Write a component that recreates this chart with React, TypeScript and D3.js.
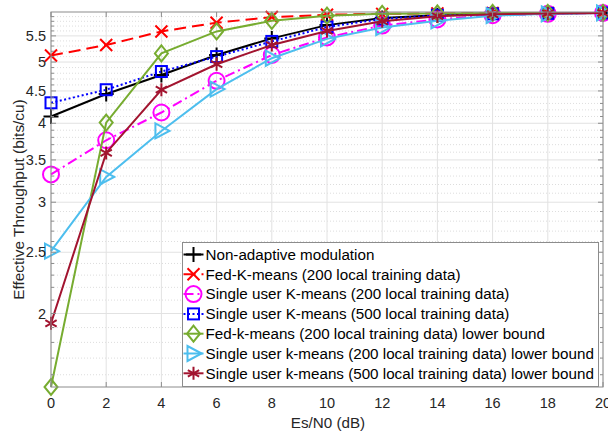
import React from "react";
import * as d3 from "d3";

const snr = [0, 2, 4, 6, 8, 10, 12, 14, 16, 18, 20];
const nonAdaptive = [4.1, 4.45, 4.77, 5.13, 5.45, 5.72, 5.87, 5.93, 5.96, 5.97, 5.98];
const fedKmeans = [5.12, 5.32, 5.59, 5.77, 5.89, 5.94, 5.96, 5.97, 5.98, 5.98, 5.98];
const single200 = [3.32, 3.76, 4.16, 4.67, 5.13, 5.47, 5.71, 5.84, 5.93, 5.96, 5.98];
const single500 = [4.31, 4.52, 4.83, 5.1, 5.39, 5.68, 5.85, 5.93, 5.96, 5.97, 5.98];
const fedLower = [1.53, 4.01, 5.16, 5.59, 5.81, 5.92, 5.96, 5.97, 5.98, 5.98, 5.98];
const single200Lower = [2.51, 3.29, 3.89, 4.53, 5.07, 5.44, 5.67, 5.81, 5.92, 5.96, 5.98];
const single500Lower = [1.93, 3.59, 4.52, 4.96, 5.32, 5.6, 5.8, 5.91, 5.95, 5.97, 5.98];

const xTicks = [0, 2, 4, 6, 8, 10, 12, 14, 16, 18, 20];
const yTicks = [2, 2.5, 3, 3.5, 4, 4.5, 5, 5.5];

const series = [
  { name: "Non-adaptive modulation", values: nonAdaptive, color: "#000000", dash: null, marker: "plus" },
  { name: "Fed-K-means (200 local training data)", values: fedKmeans, color: "#ff0000", dash: "12,6", marker: "x" },
  { name: "Single user K-means (200 local training data)", values: single200, color: "#ff00ff", dash: "10,4,2,4", marker: "circle" },
  { name: "Single user K-means (500 local training data)", values: single500, color: "#0000ff", dash: "2,2.5", marker: "square" },
  { name: "Fed-k-means (200 local training data) lower bound", values: fedLower, color: "#77ac30", dash: null, marker: "diamond" },
  { name: "Single user k-means (200 local training data) lower bound", values: single200Lower, color: "#4dbeee", dash: null, marker: "triangle" },
  { name: "Single user k-means (500 local training data) lower bound", values: single500Lower, color: "#a2142f", dash: null, marker: "star" },
];

const W = 608, H = 436;
const left = 51, right = 603, top = 12, bottom = 387;
const FONT = "'Liberation Sans', Arial, Helvetica, sans-serif";

function Marker({ kind, cx, cy, color }: { kind: string; cx: number; cy: number; color: string }) {
  const p = { fill: "none", stroke: color, strokeWidth: 2 };
  switch (kind) {
    case "plus":
      return <path d={`M${cx - 7.5},${cy}H${cx + 7.5}M${cx},${cy - 7.5}V${cy + 7.5}`} {...p} />;
    case "x":
      return <path d={`M${cx - 6},${cy - 6}L${cx + 6},${cy + 6}M${cx - 6},${cy + 6}L${cx + 6},${cy - 6}`} {...p} />;
    case "circle":
      return <circle cx={cx} cy={cy} r={8} {...p} />;
    case "square":
      return <rect x={cx - 5.5} y={cy - 5.5} width={11} height={11} {...p} />;
    case "diamond":
      return <path d={`M${cx},${cy - 8}L${cx + 6.5},${cy}L${cx},${cy + 8}L${cx - 6.5},${cy}Z`} {...p} />;
    case "triangle":
      return <path d={`M${cx + 8},${cy}L${cx - 6},${cy - 7.5}L${cx - 6},${cy + 7.5}Z`} {...p} />;
    case "star": {
      const r = 6.5;
      let d = `M${cx},${cy - r}V${cy + r}`;
      d += `M${cx - r * 0.87},${cy - r * 0.5}L${cx + r * 0.87},${cy + r * 0.5}`;
      d += `M${cx - r * 0.87},${cy + r * 0.5}L${cx + r * 0.87},${cy - r * 0.5}`;
      return <path d={d} {...p} />;
    }
  }
  return null;
}

export default function App() {
  const x = d3.scaleLinear().domain([0, 20]).range([left, right]);
  const y = d3.scaleLog().domain([1.53, 6]).range([bottom, top]);
  const minor = d3.range(16, 60).map((v) => v / 10).filter((v) => !yTicks.some((t) => Math.abs(t - v) < 1e-6));
  const line = (vals: number[]) =>
    d3.line<number>().x((_, i) => x(snr[i])).y((v) => y(v))(vals) || "";

  const legX = 182.5, legY = 242.5, legW = 416, legH = 144, rowH = 19.8;

  return (
    <svg width={W} height={H} style={{ position: "fixed", left: 0, top: 0, background: "#fff" }} fontFamily={FONT}>
      <rect x={left} y={top} width={right - left} height={bottom - top} fill="#fff" />
      {/* grid */}
      {minor.map((v) => (
        <line key={"m" + v} x1={left} x2={right} y1={y(v)} y2={y(v)} stroke="#d4d4d4" strokeWidth={0.8} strokeDasharray="1,2" />
      ))}
      {yTicks.map((v) => (
        <line key={"gy" + v} x1={left} x2={right} y1={y(v)} y2={y(v)} stroke="#e2e2e2" strokeWidth={1} />
      ))}
      {xTicks.map((v) => (
        <line key={"gx" + v} x1={x(v)} x2={x(v)} y1={top} y2={bottom} stroke="#e2e2e2" strokeWidth={1} />
      ))}
      {/* data */}
      <g>
        {series.map((s) => (
          <g key={s.name}>
            <path d={line(s.values)} fill="none" stroke={s.color} strokeWidth={2} strokeDasharray={s.dash || undefined} />
            {s.values.map((v, i) => (
              <Marker key={i} kind={s.marker} cx={x(snr[i])} cy={y(v)} color={s.color} />
            ))}
          </g>
        ))}
      </g>
      {/* axes box and ticks */}
      <rect x={left} y={top} width={right - left} height={bottom - top} fill="none" stroke="#8c8c8c" strokeWidth={1} />
      {xTicks.map((v) => (
        <g key={"tx" + v}>
          <line x1={x(v)} x2={x(v)} y1={bottom} y2={bottom - 5} stroke="#8c8c8c" />
          <line x1={x(v)} x2={x(v)} y1={top} y2={top + 5} stroke="#8c8c8c" />
          <text x={x(v)} y={bottom + 21} textAnchor="middle" fontSize={14.5} fill="#262626">{v}</text>
        </g>
      ))}
      {minor.map((v) => (
        <g key={"mt" + v}>
          <line x1={left} x2={left + 3} y1={y(v)} y2={y(v)} stroke="#8c8c8c" />
          <line x1={right} x2={right - 3} y1={y(v)} y2={y(v)} stroke="#8c8c8c" />
        </g>
      ))}
      {yTicks.map((v) => (
        <g key={"ty" + v}>
          <line x1={left} x2={left + 5} y1={y(v)} y2={y(v)} stroke="#8c8c8c" />
          <line x1={right} x2={right - 5} y1={y(v)} y2={y(v)} stroke="#8c8c8c" />
          <text x={left - 5} y={y(v)} dy="0.35em" textAnchor="end" fontSize={14.5} fill="#262626">{v}</text>
        </g>
      ))}
      <text x={(left + right) / 2 + 1} y={428} textAnchor="middle" fontSize={15.2} fill="#262626">Es/N0 (dB)</text>
      <text transform={`translate(24,${(top + bottom) / 2}) rotate(-90)`} textAnchor="middle" fontSize={15.4} fill="#262626">
        Effective Throughput (bits/cu)
      </text>
      {/* legend */}
      <rect x={legX} y={legY} width={legW} height={legH} fill="#fff" stroke="#8c8c8c" strokeWidth={1} />
      {series.map((s, i) => {
        const cy = legY + 12 + i * rowH;
        return (
          <g key={"l" + s.name}>
            <line x1={legX + 1} x2={legX + 21} y1={cy} y2={cy} stroke={s.color} strokeWidth={2} strokeDasharray={s.dash || undefined} />
            <Marker kind={s.marker} cx={legX + 11} cy={cy} color={s.color} />
            <text x={legX + 23} y={cy} dy="0.35em" fontSize={15.2} fill="#000">{s.name}</text>
          </g>
        );
      })}
    </svg>
  );
}
